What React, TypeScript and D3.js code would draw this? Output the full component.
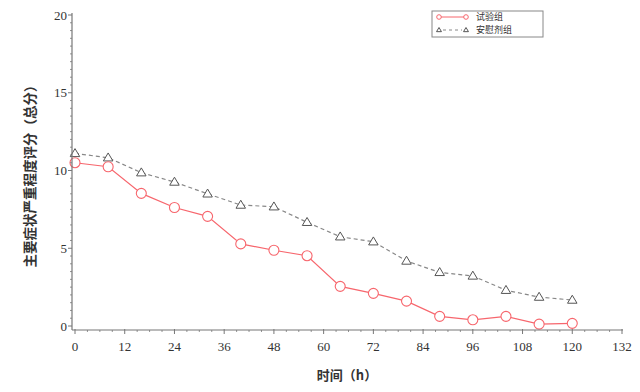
import React from "react";
import * as d3 from "d3";

const hours = [0, 8, 16, 24, 32, 40, 48, 56, 64, 72, 80, 88, 96, 104, 112, 120];
const testGroup = [10.5, 10.24, 8.53, 7.62, 7.05, 5.28, 4.87, 4.52, 2.55, 2.1, 1.6, 0.62, 0.4, 0.62, 0.12, 0.17];
const placeboGroup = [11.1, 10.82, 9.86, 9.26, 8.5, 7.78, 7.67, 6.67, 5.74, 5.42, 4.18, 3.45, 3.22, 2.3, 1.86, 1.67];
const xTicks = [0, 12, 24, 36, 48, 60, 72, 84, 96, 108, 120, 132];
const yTicks = [0, 5, 10, 15, 20];
const legendNames = ["试验组", "安慰剂组"];

const W = 640;
const H = 392;
const RED = "#f7666d";
const GRAY = "#777";
const serif = "'Liberation Serif', 'Times New Roman', serif";
const cjk = "'Noto Sans CJK SC', sans-serif";

function Triangle({ x, y, s = 6 }: { x: number; y: number; s?: number }) {
  const h = s * 1.6;
  return (
    <path
      d={`M${x},${y - h * 0.6} L${x + s * 0.95},${y + h * 0.4} L${x - s * 0.95},${y + h * 0.4} Z`}
      fill="white"
      stroke="#555"
      strokeWidth={1}
    />
  );
}

export default function App() {
  const x = d3.scaleLinear().domain([0, 132]).range([75, 622]);
  const y = d3.scaleLinear().domain([0, 20]).range([326, 15]);
  const axisX = 72;
  const axisY = 330;

  const line = d3
    .line<[number, number]>()
    .x(d => x(d[0]))
    .y(d => y(d[1]));

  const testPts: [number, number][] = hours.map((h, i) => [h, testGroup[i]]);
  const placeboPts: [number, number][] = hours.map((h, i) => [h, placeboGroup[i]]);

  const xMinor = d3.range(0, 133, 3).filter(v => v % 12 !== 0);
  const yMinor = d3.range(0, 20.01, 0.5).filter(v => v % 5 !== 0);

  return (
    <svg
      width={W}
      height={H}
      style={{ position: "absolute", left: 0, top: 0, background: "white" }}
    >
      {/* lines */}
      <path d={line(placeboPts) || ""} fill="none" stroke="#888" strokeWidth={1.2} strokeDasharray="4,3" />
      <path d={line(testPts) || ""} fill="none" stroke={RED} strokeWidth={1.2} />
      {placeboPts.map((d, i) => (
        <Triangle key={`t${i}`} x={x(d[0])} y={y(d[1])} s={5} />
      ))}
      {testPts.map((d, i) => (
        <circle key={`c${i}`} cx={x(d[0])} cy={y(d[1])} r={5} fill="white" stroke={RED} strokeWidth={1.1} />
      ))}

      {/* y axis */}
      <line x1={axisX} x2={axisX} y1={y(20) - 2} y2={axisY} stroke={GRAY} strokeWidth={1.2} />
      {yMinor.map(v => (
        <line key={`ym${v}`} x1={axisX - 2} x2={axisX} y1={y(v)} y2={y(v)} stroke={GRAY} strokeWidth={0.8} />
      ))}
      {yTicks.map(v => (
        <g key={`y${v}`}>
          <line x1={axisX - 4} x2={axisX} y1={y(v)} y2={y(v)} stroke={GRAY} strokeWidth={1} />
          <text x={axisX - 5} y={y(v)} dy="0.35em" textAnchor="end" fontSize={13} fontFamily={serif} fill="#333">
            {v}
          </text>
        </g>
      ))}

      {/* x axis */}
      <line x1={axisX} x2={x(132) + 1} y1={axisY} y2={axisY} stroke={GRAY} strokeWidth={1.2} />
      {xMinor.map(v => (
        <line key={`xm${v}`} x1={x(v)} x2={x(v)} y1={axisY} y2={axisY + 2} stroke={GRAY} strokeWidth={0.8} />
      ))}
      {xTicks.map(v => (
        <g key={`x${v}`}>
          <line x1={x(v)} x2={x(v)} y1={axisY - 1} y2={axisY + 4} stroke={GRAY} strokeWidth={1} />
          <text x={x(v)} y={351} textAnchor="middle" fontSize={13} fontFamily={serif} fill="#333">
            {v}
          </text>
        </g>
      ))}

      {/* axis titles */}
      <text
        transform={`translate(31, 173) rotate(-90)`}
        textAnchor="middle"
        dominantBaseline="middle"
        fontSize={13.5}
        fontWeight={600}
        fontFamily={cjk}
        fill="#333"
      >
        主要症状严重程度评分（总分）
      </text>
      <text x={347} y={380} textAnchor="middle" fontSize={13} fontWeight={600} fontFamily={cjk} fill="#333">
        时间（h）
      </text>

      {/* legend */}
      <g>
        <rect x={432} y={11} width={111} height={26} fill="white" stroke="#888" strokeWidth={1} />
        <line x1={439} x2={466} y1={17} y2={17} stroke={RED} strokeWidth={1} />
        <circle cx={439} cy={17} r={2.3} fill="white" stroke={RED} strokeWidth={1} />
        <circle cx={466} cy={17} r={2.3} fill="white" stroke={RED} strokeWidth={1} />
        <text x={476} y={17} dy="0.35em" fontSize={9} fontFamily={cjk} fill="#333">
          {legendNames[0]}
        </text>
        <line x1={443} x2={462} y1={30} y2={30} stroke="#888" strokeWidth={1} strokeDasharray="3,3" />
        <Triangle x={439} y={30} s={2.6} />
        <Triangle x={466} y={30} s={2.6} />
        <text x={476} y={30} dy="0.35em" fontSize={9} fontFamily={cjk} fill="#333">
          {legendNames[1]}
        </text>
      </g>
    </svg>
  );
}
